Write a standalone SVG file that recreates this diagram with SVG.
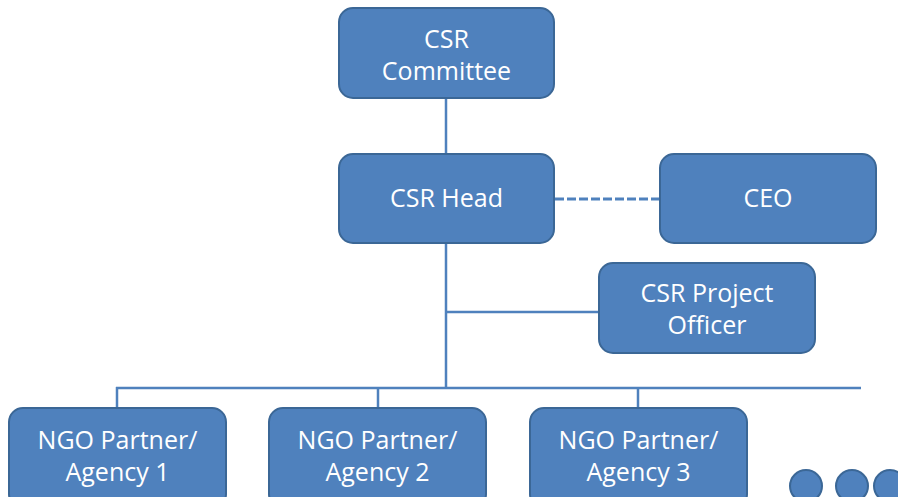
<svg xmlns="http://www.w3.org/2000/svg" width="898" height="497" viewBox="0 0 898 497">
<style>
.box{fill:#4F81BD;stroke:#3B6796;stroke-width:2}
.lbl{fill:#FFFFFF;font-family:"Open Sans","Liberation Sans",sans-serif;font-size:25px;text-anchor:middle}
.ln{stroke:#4F81BD;stroke-width:2.5;fill:none}
.dash{stroke:#4F81BD;stroke-width:3;stroke-dasharray:9,3;fill:none}
</style>
<rect width="898" height="497" fill="#FFFFFF"/>
<g id="connectors">
<line class="ln" x1="446" y1="98" x2="446" y2="154"/>
<line class="ln" x1="446" y1="243" x2="446" y2="389"/>
<line class="dash" x1="555" y1="199" x2="660" y2="199"/>
<line class="ln" x1="446" y1="312" x2="599" y2="312"/>
<line class="ln" x1="116" y1="388" x2="861" y2="388"/>
<line class="ln" x1="117" y1="387" x2="117" y2="409"/>
<line class="ln" x1="378" y1="387" x2="378" y2="409"/>
<line class="ln" x1="638" y1="387" x2="638" y2="409"/>
</g>
<g id="csr-committee">
<rect class="box" x="339" y="8" width="215" height="90" rx="14"/>
<text class="lbl" x="446.5" y="48">CSR</text>
<text class="lbl" x="446.5" y="80">Committee</text>
</g>
<g id="csr-head">
<rect class="box" x="339" y="154" width="215" height="89" rx="14"/>
<text class="lbl" x="446.5" y="207">CSR Head</text>
</g>
<g id="ceo">
<rect class="box" x="660" y="154" width="216" height="89" rx="14"/>
<text class="lbl" x="768" y="207">CEO</text>
</g>
<g id="csr-project-officer">
<rect class="box" x="599" y="263" width="216" height="90" rx="14"/>
<text class="lbl" x="707" y="302">CSR Project</text>
<text class="lbl" x="707" y="334">Officer</text>
</g>
<g id="ngo1">
<rect class="box" x="9" y="408" width="217" height="100" rx="14"/>
<text class="lbl" x="117.5" y="449">NGO Partner/</text>
<text class="lbl" x="117.5" y="481">Agency 1</text>
</g>
<g id="ngo2">
<rect class="box" x="269" y="408" width="217" height="100" rx="14"/>
<text class="lbl" x="377.5" y="449">NGO Partner/</text>
<text class="lbl" x="377.5" y="481">Agency 2</text>
</g>
<g id="ngo3">
<rect class="box" x="530" y="408" width="217" height="100" rx="14"/>
<text class="lbl" x="638.5" y="449">NGO Partner/</text>
<text class="lbl" x="638.5" y="481">Agency 3</text>
</g>
<g id="more">
<circle class="box" cx="806" cy="486" r="16"/>
<circle class="box" cx="852" cy="486" r="16"/>
<circle class="box" cx="890" cy="486" r="16"/>
</g>
</svg>
